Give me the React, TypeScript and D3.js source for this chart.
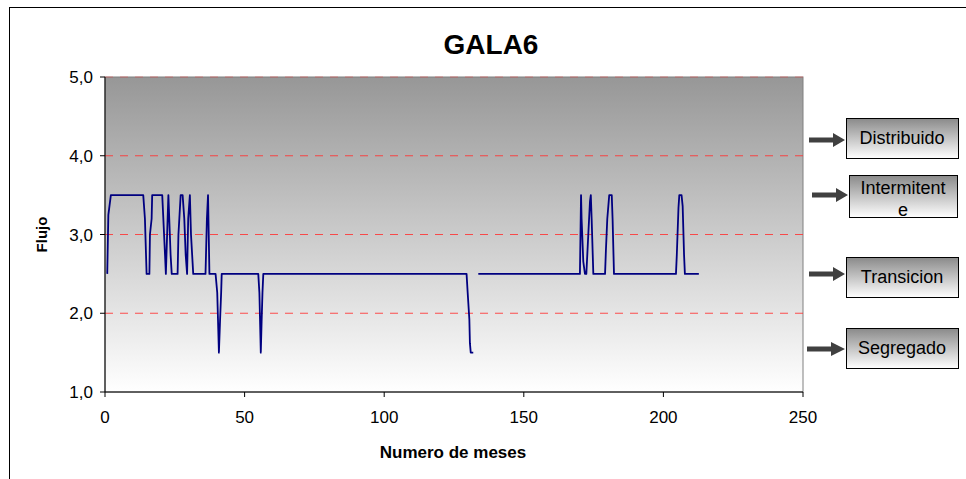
import React from "react";
import * as d3 from "d3";

const months: number[] = [
  0.8, 1.2, 2.1, 13.7, 14.3, 14.9, 15.9, 16.1, 16.7, 16.9,
  20.5, 21.5, 21.8, 22.7, 23.5, 23.9, 26.0, 26.3, 27.1, 27.8, 28.4, 28.9, 29.4,
  29.8, 30.4, 30.8, 31.6, 36.0, 36.5, 36.9, 37.4, 39.6, 40.2, 40.8, 41.2, 41.6, 41.8,
  54.9, 55.3, 55.8, 56.1, 56.4, 56.7,
  129.5, 129.9, 130.5, 130.7, 131.0, 131.9, 132.8, 133.7,
  170.1, 170.3, 170.5, 170.7, 171.3, 171.9, 172.4, 173.1, 173.7, 174.0, 174.3, 174.9,
  179.1, 179.4, 179.9, 180.6, 181.5, 181.8, 182.3,
  204.5, 204.8, 205.4, 205.7, 206.5, 206.9, 207.4, 207.7, 212.7,
];
const flujo: (number | null)[] = [
  2.5, 3.25, 3.5, 3.5, 3.2, 2.5, 2.5, 3.0, 3.2, 3.5,
  3.5, 2.74, 2.5, 3.5, 2.74, 2.5, 2.5, 3.0, 3.5, 3.5, 3.2, 2.74, 2.5,
  3.2, 3.5, 3.0, 2.5, 2.5, 3.2, 3.5, 2.5, 2.5, 2.26, 1.5, 1.9, 2.26, 2.5,
  2.5, 2.26, 1.5, 1.9, 2.26, 2.5,
  2.5, 2.26, 1.92, 1.62, 1.5, 1.5, null, 2.5,
  2.5, 3.0, 3.5, 3.2, 2.66, 2.5, 2.5, 3.0, 3.42, 3.5, 3.2, 2.5,
  2.5, 2.79, 3.2, 3.5, 3.5, 3.2, 2.5,
  2.5, 2.74, 3.34, 3.5, 3.5, 3.36, 2.74, 2.5, 2.5,
];

const xTicks: number[] = [0, 50, 100, 150, 200, 250];
const yTicks: number[] = [1, 2, 3, 4, 5];
const refLines: number[] = [2, 3, 4, 5];
const legendLines: string[][] = [["Distribuido"], ["Intermitent", "e"], ["Transicion"], ["Segregado"]];

const W = 966;
const H = 479;
const plot = { left: 105, right: 803, top: 77, bottom: 392 };

export default function App() {
  const x = d3.scaleLinear().domain([0, 250]).range([plot.left, plot.right]);
  const y = d3.scaleLinear().domain([1, 5]).range([plot.bottom, plot.top]);
  const pts = months.map((m, i) => ({ m, v: flujo[i] }));
  const line = d3
    .line<{ m: number; v: number | null }>()
    .defined((d) => d.v !== null)
    .x((d) => x(d.m))
    .y((d) => y(d.v as number));
  const fmt = (v: number) => v.toFixed(1).replace(".", ",");
  const font = "'Liberation Sans', Arial, sans-serif";

  const boxes = [
    { x: 846, y: 118, w: 112, h: 40, ax: 809, ay: 140 },
    { x: 849, y: 175, w: 108, h: 42, ax: 812, ay: 195 },
    { x: 846, y: 257, w: 112, h: 40, ax: 809, ay: 274 },
    { x: 846, y: 328, w: 112, h: 40, ax: 807, ay: 349 },
  ];

  return (
    <svg
      width={W}
      height={H}
      style={{ position: "absolute", left: 0, top: 0, background: "#fff" }}
      fontFamily={font}
    >
      <defs>
        <linearGradient id="bg" x1="0" y1="0" x2="0" y2="1">
          <stop offset="0" stopColor="#979797" />
          <stop offset="1" stopColor="#ffffff" />
        </linearGradient>
        <linearGradient id="lg" x1="0" y1="0" x2="0" y2="1">
          <stop offset="0" stopColor="#8a8a8a" />
          <stop offset="1" stopColor="#ffffff" />
        </linearGradient>
      </defs>
      <rect x={9.5} y={7.5} width={W} height={H} fill="#fff" stroke="#000" strokeWidth={1} />
      <text x={491} y={54} textAnchor="middle" fontSize={28} fontWeight="bold">GALA6</text>

      <rect
        x={plot.left}
        y={plot.top}
        width={plot.right - plot.left}
        height={plot.bottom - plot.top}
        fill="url(#bg)"
        stroke="#808080"
        strokeWidth={1}
      />
      {refLines.map((v) => (
        <line
          key={v}
          x1={plot.left}
          x2={plot.right}
          y1={y(v)}
          y2={y(v)}
          stroke="#ff3333"
          strokeOpacity={v === 5 ? 0.4 : 0.85}
          strokeWidth={1.2}
          strokeDasharray="8,7"
        />
      ))}
      <path d={line(pts) || ""} fill="none" stroke="#000080" strokeWidth={1.8} strokeLinejoin="round" />

      <line x1={plot.left} x2={plot.left} y1={plot.top} y2={plot.bottom} stroke="#000" />
      <line x1={plot.left} x2={plot.right} y1={plot.bottom} y2={plot.bottom} stroke="#000" />
      {yTicks.map((v) => (
        <g key={v}>
          <line x1={plot.left - 5} x2={plot.left} y1={y(v)} y2={y(v)} stroke="#000" />
          <text x={plot.left - 12} y={y(v) + 6} textAnchor="end" fontSize={17}>{fmt(v)}</text>
        </g>
      ))}
      {xTicks.map((v) => (
        <g key={v}>
          <line x1={x(v)} x2={x(v)} y1={plot.bottom} y2={plot.bottom + 5} stroke="#000" />
          <text x={x(v)} y={plot.bottom + 31} textAnchor="middle" fontSize={17}>{v}</text>
        </g>
      ))}
      <text x={453} y={458} textAnchor="middle" fontSize={17} fontWeight="bold">Numero de meses</text>
      <text
        transform={`translate(47,${(plot.top + plot.bottom) / 2}) rotate(-90)`}
        textAnchor="middle"
        fontSize={15}
        fontWeight="bold"
      >
        Flujo
      </text>

      {legendLines.map((lines, i) => {
        const b = boxes[i];
        return (
          <g key={i}>
            <rect x={b.x + 0.5} y={b.y + 0.5} width={b.w} height={b.h} fill="url(#lg)" stroke="#000" />
            {lines.map((t, j) => (
              <text
                key={j}
                x={b.x + b.w / 2}
                y={lines.length === 1 ? b.y + b.h / 2 + 6 : b.y + 19 + j * 22}
                textAnchor="middle"
                fontSize={18}
              >
                {t}
              </text>
            ))}
            <path
              d={`M${b.ax},${b.ay - 2.5}L${b.ax + 24},${b.ay - 2.5}L${b.ax + 24},${b.ay - 7}L${b.x - 1},${b.ay}L${b.ax + 24},${b.ay + 7}L${b.ax + 24},${b.ay + 2.5}L${b.ax},${b.ay + 2.5}Z`}
              fill="#404040"
            />
          </g>
        );
      })}
    </svg>
  );
}
